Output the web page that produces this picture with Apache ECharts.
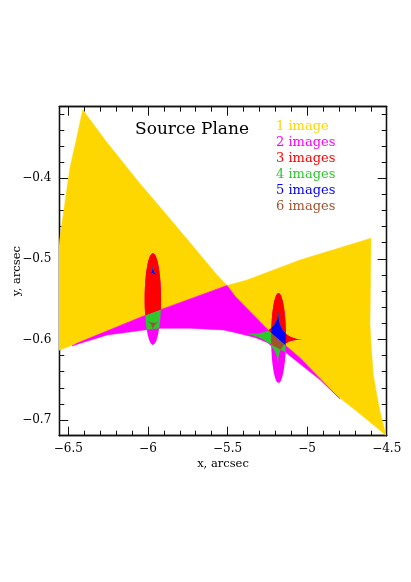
<!DOCTYPE html>
<html>
<head>
<meta charset="utf-8">
<script src="https://cdn.jsdelivr.net/npm/echarts@6/dist/echarts.min.js"></script>
<style>
  html, body { margin: 0; padding: 0; background: #fff; }
  #chart { width: 411px; height: 582px; }
</style>
</head>
<body>
<div id="chart"></div>
<script>
// axis ranges and tick values
const xRange = [-6.557, -4.5];
const yRange = [-0.7195, -0.3112];
const xMajor = [-6.5, -6, -5.5, -5, -4.5];
const xMinor = [-6.4, -6.3, -6.2, -6.1, -5.9, -5.8, -5.7, -5.6, -5.4, -5.3, -5.2, -5.1, -4.9, -4.8, -4.7, -4.6];
const yMajor = [-0.7, -0.6, -0.5, -0.4];
const yMinor = [-0.68, -0.66, -0.64, -0.62, -0.58, -0.56, -0.54, -0.52, -0.48, -0.46, -0.44, -0.42, -0.38, -0.36, -0.34, -0.32];

// 1-image regions (the two yellow wedges)
const yellowLeft = [
  [-6.41, -0.315], [-6.452, -0.354], [-6.489, -0.3856], [-6.552, -0.4725], [-6.602, -0.551], [-6.615, -0.618],
  [-6.4453, -0.6047], [-6.0226, -0.5705], [-5.5239, -0.5345], [-5.5031, -0.533],
  [-5.566, -0.52], [-5.767, -0.4725], [-5.8926, -0.4431], [-6.0603, -0.4042], [-6.2695, -0.3525]
];
const yellowRight = [
  [-5.5031, -0.533], [-5.3775, -0.5262], [-5.0446, -0.5014], [-4.5986, -0.4744],
  [-4.6018, -0.5262], [-4.605, -0.5818], [-4.5962, -0.613], [-4.5842, -0.644], [-4.5622, -0.6689],
  [-4.542, -0.6896], [-4.505, -0.719],
  [-4.6677, -0.6924], [-4.8254, -0.6676], [-5.0446, -0.623], [-5.2268, -0.5919], [-5.4529, -0.5464]
];
// 2-image strip
const magentaRegion = [
  [-6.4768, -0.6081], [-6.4453, -0.6047], [-6.0226, -0.5705], [-5.5239, -0.5345], [-5.5031, -0.533],
  [-5.4529, -0.5464], [-5.2268, -0.5919], [-5.0446, -0.623], [-4.8254, -0.6676], [-4.7927, -0.6738],
  [-4.9183, -0.6502], [-5.044, -0.6304], [-5.1382, -0.6155], [-5.2456, -0.6043], [-5.3273, -0.5975],
  [-5.4403, -0.5919], [-5.5239, -0.5882], [-5.7337, -0.5861], [-5.9177, -0.5861], [-6.0226, -0.5882],
  [-6.2569, -0.5944], [-6.4246, -0.6047]
];
// small elliptical caustics: centre and radii
const ellCenters = [[-5.9692, -0.55], [-5.1796, -0.5981]];
const ellRadii = [[0.0515, 0.0568], [0.0465, 0.0558]];
// cusped caustics inside them: cusps, centre, owning ellipse
const causticCusps = [
  [[-5.9698, -0.5082], [-5.9912, -0.5187], [-5.9428, -0.5212]],
  [[-5.9994, -0.5774], [-5.9334, -0.5783], [-5.9711, -0.5901]],
  [[-5.4108, -0.5919], [-5.1809, -0.5646], [-5.0289, -0.6006], [-5.1828, -0.6316]]
];
const causticCentres = [[-5.968, -0.5163], [-5.968, -0.5814], [-5.1859, -0.5981]];
const causticEllipse = [0, 0, 1];

const legendLabels = ['1 image', '2 images', '3 images', '4 images', '5 images', '6 images'];
const colors = ['#FFD700', '#FF00FF', '#FF0000', '#2DC82D', '#0000FF', '#A0522D'];

const FONT = '"DejaVu Serif", "Liberation Serif", serif';
const fmt = v => String(+v.toFixed(2)).replace('-', '\u2212');

function pathOf(p) {
  return 'M' + p.map(q => q[0].toFixed(2) + ' ' + q[1].toFixed(2)).join(' L') + ' Z';
}

function renderItem(params, api) {
  const px = arr => arr.map(p => api.coord(p));
  const yPath = pathOf(px(yellowLeft)) + ' ' + pathOf(px(yellowRight));
  const mPts = px(magentaRegion);
  const clipY = () => ({ type: 'path', shape: { pathData: yPath } });
  const clipM = () => ({ type: 'polygon', shape: { points: mPts } });
  const ell = i => {
    const c = api.coord(ellCenters[i]);
    const s = api.size(ellRadii[i]);
    return { cx: c[0], cy: c[1], rx: s[0], ry: s[1] };
  };
  const causticPath = k => {
    const c = api.coord(causticCentres[k]);
    const p = px(causticCusps[k]);
    let d = 'M' + p[0][0] + ' ' + p[0][1];
    for (let i = 1; i <= p.length; i++) {
      const q = p[i % p.length];
      d += ' Q' + c[0] + ' ' + c[1] + ' ' + q[0] + ' ' + q[1];
    }
    return d + ' Z';
  };
  const children = [
    { type: 'path', shape: { pathData: yPath }, style: { fill: colors[0], stroke: colors[0], lineWidth: 0.5 } },
    { type: 'polygon', shape: { points: mPts }, style: { fill: colors[1], stroke: colors[1], lineWidth: 0.6 } }
  ];
  ellCenters.forEach((c, i) => {
    children.push({ type: 'ellipse', shape: ell(i), style: { fill: colors[1] } });
    children.push({ type: 'ellipse', shape: ell(i), style: { fill: colors[2] }, clipPath: clipY() });
    children.push({ type: 'ellipse', shape: ell(i), style: { fill: colors[3] }, clipPath: clipM() });
  });
  causticCusps.forEach((c, k) => {
    const d = causticPath(k);
    children.push({ type: 'path', shape: { pathData: d }, style: { fill: colors[1] } });
    children.push({ type: 'path', shape: { pathData: d }, style: { fill: colors[2] }, clipPath: clipY() });
    children.push({ type: 'path', shape: { pathData: d }, style: { fill: colors[3] }, clipPath: clipM() });
    children.push({
      type: 'group',
      clipPath: { type: 'ellipse', shape: ell(causticEllipse[k]) },
      children: [
        { type: 'path', shape: { pathData: d }, style: { fill: colors[3] } },
        { type: 'path', shape: { pathData: d }, style: { fill: colors[4] }, clipPath: clipY() },
        { type: 'path', shape: { pathData: d }, style: { fill: colors[5] }, clipPath: clipM() }
      ]
    });
  });
  return { type: 'group', children: children };
}

function axis(dim, pos, ticks, len, labels) {
  const range = dim === 'x' ? xRange : yRange;
  const a = {
    type: 'value', position: pos, min: range[0], max: range[1],
    axisLine: { show: true, onZero: false, lineStyle: { color: '#111', width: 1.3 } },
    axisTick: { show: true, inside: true, length: len, customValues: ticks, lineStyle: { color: '#111', width: 1 } },
    axisLabel: { show: false },
    splitLine: { show: false }
  };
  if (labels) {
    a.axisLabel = {
      show: true, customValues: ticks, formatter: fmt, color: '#000',
      fontFamily: FONT, fontSize: 12, margin: dim === 'x' ? 7 : 8
    };
    a.name = dim === 'x' ? 'x, arcsec' : 'y, arcsec';
    a.nameLocation = 'middle';
    a.nameMoveOverlap = false;
    a.nameGap = dim === 'x' ? 22 : 36;
    a.nameTextStyle = { fontFamily: FONT, fontSize: 11.5, color: '#000' };
  }
  return a;
}

const chart = echarts.init(document.getElementById('chart'), null, { renderer: 'canvas' });
chart.setOption({
  animation: false,
  backgroundColor: '#fff',
  grid: { left: 59.3, top: 106.7, right: 24.3, bottom: 146.3, containLabel: false, outerBoundsMode: 'none' },
  xAxis: [
    axis('x', 'bottom', xMajor, 9, true),
    axis('x', 'bottom', xMinor, 5, false),
    axis('x', 'top', xMajor, 9, false),
    axis('x', 'top', xMinor, 5, false)
  ],
  yAxis: [
    axis('y', 'left', yMajor, 9, true),
    axis('y', 'left', yMinor, 5, false),
    axis('y', 'right', yMajor, 9, false),
    axis('y', 'right', yMinor, 5, false)
  ],
  graphic: [
    { type: 'text', x: 135, y: 130, style: { text: 'Source Plane', fontFamily: FONT, fontSize: 17, fill: '#000', verticalAlign: 'middle' } }
  ].concat(legendLabels.map((t, i) => ({
    type: 'text', x: 276, y: 127 + i * 16,
    style: { text: t, fontFamily: FONT, fontSize: 13, fill: colors[i], verticalAlign: 'middle' }
  }))),
  series: [{
    type: 'custom',
    coordinateSystem: 'cartesian2d',
    clip: true,
    silent: true,
    data: [[xRange[0], yRange[0]]],
    renderItem: renderItem,
    z: 1
  }]
});
</script>
</body>
</html>
